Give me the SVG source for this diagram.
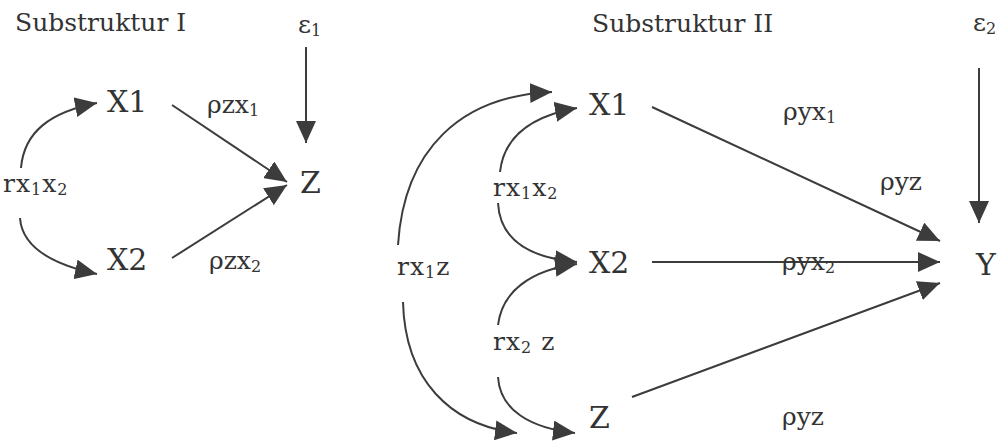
<svg xmlns="http://www.w3.org/2000/svg" width="1000" height="442" viewBox="0 0 1000 442">
<style>
text{font-family:"DejaVu Serif","Liberation Serif",serif;fill:#333}
.n{font-size:30px}
.t{font-size:25px}
.l{font-size:25px}
.s{font-size:16px}
.c{fill:none;stroke:#3c3c3c;stroke-width:2}
</style>
<defs>
<marker id="ah" viewBox="0 0 22 20" refX="22" refY="10" markerWidth="22" markerHeight="20" orient="auto" markerUnits="userSpaceOnUse">
<path d="M0,0 L22,10 L0,20 Z" fill="#3c3c3c"/>
</marker>
</defs>
<rect width="1000" height="442" fill="#fff"/>
<g id="connectors">
<path class="c" marker-end="url(#ah)" d="M21,168 C24,132 50,112 97,103"/>
<path class="c" marker-end="url(#ah)" d="M20,218 C22,246 50,264 97,274"/>
<path class="c" marker-end="url(#ah)" d="M172,105 L287,182"/>
<path class="c" marker-end="url(#ah)" d="M172,258 L287,185"/>
<path class="c" marker-end="url(#ah)" d="M306,47 L306,143"/>
<path class="c" marker-end="url(#ah)" d="M398,245 C404,150 460,96 552,92"/>
<path class="c" marker-end="url(#ah)" d="M500,172 C504,136 532,116 577,108"/>
<path class="c" marker-end="url(#ah)" d="M498,203 C500,240 530,258 577,262"/>
<path class="c" marker-end="url(#ah)" d="M498,325 C502,292 530,270 577,264"/>
<path class="c" marker-end="url(#ah)" d="M498,377 C500,410 530,428 575,433"/>
<path class="c" marker-end="url(#ah)" d="M403,302 C405,380 450,425 517,433"/>
<path class="c" marker-end="url(#ah)" d="M652,107 L940,241"/>
<path class="c" marker-end="url(#ah)" d="M652,262 L940,262"/>
<path class="c" marker-end="url(#ah)" d="M632,397 L940,283"/>
<path class="c" marker-end="url(#ah)" d="M979,68 L979,223"/>
</g>
<g id="title1"><text class="t" x="15" y="31">Substruktur I</text></g>
<g id="e1"><text class="l" x="298" y="33">ε<tspan class="s" dy="3">1</tspan></text></g>
<g id="s1-x1"><text class="n" x="107" y="112">X1</text></g>
<g id="s1-x2"><text class="n" x="107" y="270">X2</text></g>
<g id="s1-z"><text class="n" x="300" y="193">Z</text></g>
<g id="s1-rx1x2"><text class="l" x="3" y="192" letter-spacing="1">rx<tspan class="s" dy="3">1</tspan><tspan dy="-3">x</tspan><tspan class="s" dy="3">2</tspan></text></g>
<g id="s1-pzx1"><text class="l" x="207" y="113">ρzx<tspan class="s" dy="3">1</tspan></text></g>
<g id="s1-pzx2"><text class="l" x="209" y="269">ρzx<tspan class="s" dy="3">2</tspan></text></g>
<g id="title2"><text class="t" x="592" y="32">Substruktur II</text></g>
<g id="e2"><text class="l" x="973" y="31">ε<tspan class="s" dy="3">2</tspan></text></g>
<g id="s2-x1"><text class="n" x="589" y="115">X1</text></g>
<g id="s2-x2"><text class="n" x="589" y="273">X2</text></g>
<g id="s2-z"><text class="n" x="589" y="428">Z</text></g>
<g id="s2-y"><text class="n" x="976" y="275">Y</text></g>
<g id="s2-rx1x2"><text class="l" x="493" y="196" letter-spacing="1">rx<tspan class="s" dy="3">1</tspan><tspan dy="-3">x</tspan><tspan class="s" dy="3">2</tspan></text></g>
<g id="s2-rx1z"><text class="l" x="397" y="275" letter-spacing="1">rx<tspan class="s" dy="3">1</tspan><tspan dy="-3">z</tspan></text></g>
<g id="s2-rx2z"><text class="l" x="493" y="350" letter-spacing="1">rx<tspan class="s" dy="3">2</tspan><tspan dy="-3"> z</tspan></text></g>
<g id="s2-pyx1"><text class="l" x="783" y="120">ρyx<tspan class="s" dy="3">1</tspan></text></g>
<g id="s2-pyz1"><text class="l" x="880" y="190">ρyz</text></g>
<g id="s2-pyx2"><text class="l" x="782" y="270">ρyx<tspan class="s" dy="3">2</tspan></text></g>
<g id="s2-pyz2"><text class="l" x="782" y="425">ρyz</text></g>
</svg>
